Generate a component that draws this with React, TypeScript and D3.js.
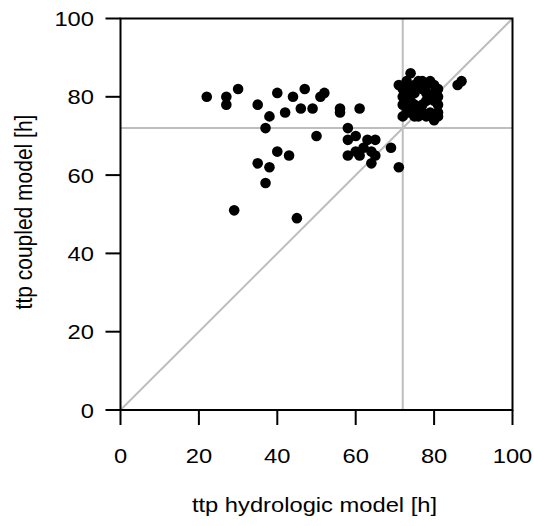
import React from "react";
import * as d3 from "d3";

// hydrologic model ttp (x) and coupled model ttp (y), hours
const hydroTtp: number[] = [
  22, 27, 27, 30, 35, 38, 37, 40, 42, 44, 47, 46, 49, 51, 52, 50, 56, 56, 61, 40, 43, 35, 38, 37, 29, 45,
  58, 58, 60, 58, 60, 61, 62, 63, 65, 64, 65, 64, 69, 71,
  74, 71, 72, 73, 75, 76, 77, 78, 79, 80, 81, 74, 77, 73, 72, 74, 75, 78, 79, 81, 80,
  72, 73, 75, 76, 77, 78, 81, 80, 72, 73, 74, 75, 76, 77, 78, 79, 80, 81, 81, 86, 87,
];
const coupledTtp: number[] = [
  80, 80, 78, 82, 78, 75, 72, 81, 76, 80, 82, 77, 77, 80, 81, 70, 77, 76, 77, 66, 65, 63, 62, 58, 51, 49,
  72, 69, 70, 65, 66, 65, 67, 69, 69, 66, 65, 63, 67, 62,
  86, 83, 82, 84, 83, 84, 84, 83, 84, 83, 82, 82, 82, 81, 80, 79, 81, 81, 80, 80, 81,
  78, 77, 78, 77, 78, 79, 78, 79, 75, 76, 76, 75, 75, 76, 75, 76, 74, 76, 75, 83, 84,
];
const xTicks: number[] = [0, 20, 40, 60, 80, 100];
const yTicks: number[] = [0, 20, 40, 60, 80, 100];
const refX = 72;
const refY = 72;
const xTitle = "ttp hydrologic model [h]";
const yTitle = "ttp coupled model [h]";

export default function App() {
  const W = 534;
  const H = 526;
  const x = d3.scaleLinear().domain([0, 100]).range([120.5, 512.5]);
  const y = d3.scaleLinear().domain([0, 100]).range([410, 18.5]);
  const font = "'Liberation Sans', Arial, sans-serif";
  const gray = "#bebebe";
  const pts = hydroTtp.map((v, i) => [v, coupledTtp[i]]);
  const tickLen = 15;
  const fs = 21;
  const sx = 1.13;
  return (
    <svg
      width={W}
      height={H}
      style={{ position: "absolute", left: 0, top: 0, background: "#fff" }}
      fontFamily={font}
    >
      {/* reference lines */}
      <line x1={x(0)} y1={y(0)} x2={x(100)} y2={y(100)} stroke={gray} strokeWidth={2} />
      <line x1={x(0)} y1={y(refY)} x2={x(100)} y2={y(refY)} stroke={gray} strokeWidth={2} />
      <line x1={x(refX)} y1={y(0)} x2={x(refX)} y2={y(100)} stroke={gray} strokeWidth={2} />
      {/* points */}
      {pts.map((p, i) => (
        <circle key={i} cx={x(p[0])} cy={y(p[1])} r={5.3} fill="#000" />
      ))}
      {/* box */}
      <rect
        x={x(0)}
        y={y(100)}
        width={x(100) - x(0)}
        height={y(0) - y(100)}
        fill="none"
        stroke="#000"
        strokeWidth={2}
      />
      {/* x axis */}
      {xTicks.map((t) => (
        <g key={"x" + t}>
          <line x1={x(t)} x2={x(t)} y1={y(0)} y2={y(0) + tickLen} stroke="#000" strokeWidth={2} />
          <text
            transform={`translate(${x(t)},463) scale(${sx},1)`}
            fontSize={fs}
            textAnchor="middle"
            fill="#000"
          >
            {t}
          </text>
        </g>
      ))}
      {/* y axis */}
      {yTicks.map((t) => (
        <g key={"y" + t}>
          <line x1={x(0) - tickLen} x2={x(0)} y1={y(t)} y2={y(t)} stroke="#000" strokeWidth={2} />
          <text
            transform={`translate(94,${y(t) + 7.5}) scale(${sx},1)`}
            fontSize={fs}
            textAnchor="end"
            fill="#000"
          >
            {t}
          </text>
        </g>
      ))}
      <text
        transform={`translate(${(x(0) + x(100)) / 2 - 2},512) scale(${sx},1)`}
        fontSize={fs}
        textAnchor="middle"
        fill="#000"
      >
        {xTitle}
      </text>
      <text
        transform={`translate(31.5, 212) rotate(-90) scale(1,${sx})`}
        fontSize={fs}
        textAnchor="middle"
        fill="#000"
      >
        {yTitle}
      </text>
    </svg>
  );
}
